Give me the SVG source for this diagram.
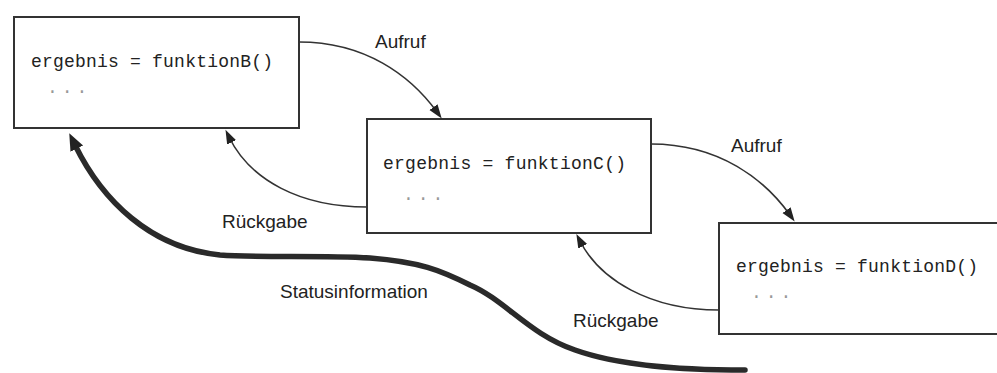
<svg xmlns="http://www.w3.org/2000/svg" width="997" height="373" viewBox="0 0 997 373">
<style>
.box{fill:#fff;stroke:#333;stroke-width:2}
.code{font-family:"Liberation Mono","DejaVu Sans Mono",monospace;font-size:18px;fill:#222}
.dots{font-family:"Liberation Mono","DejaVu Sans Mono",monospace;font-size:18px;fill:#999;letter-spacing:4px}
.lbl{font-family:"Liberation Sans",Arial,sans-serif;font-size:19px;fill:#222}
.thin{fill:none;stroke:#333;stroke-width:1.6}
.thick{fill:none;stroke:#2a2a2a;stroke-width:5.5;stroke-linecap:round}
</style>
<defs>
<marker id="ah" markerUnits="userSpaceOnUse" markerWidth="16" markerHeight="12" refX="6" refY="5" orient="auto">
<path d="M0,0 L14,5 L0,10 z" fill="#222"/>
</marker>
<marker id="ahb" markerUnits="userSpaceOnUse" markerWidth="20" markerHeight="16" refX="4" refY="7" orient="auto">
<path d="M0,0 L17,7 L0,14 z" fill="#222"/>
</marker>
</defs>
<g id="nodeB">
<rect class="box" x="14" y="17" width="285" height="111"/>
<text class="code" x="31" y="67" textLength="242" lengthAdjust="spacing">ergebnis = funktionB()</text>
<text class="dots" x="47" y="93">...</text>
</g>
<g id="nodeC">
<rect class="box" x="367" y="119" width="284" height="114"/>
<text class="code" x="383" y="169" textLength="243" lengthAdjust="spacing">ergebnis = funktionC()</text>
<text class="dots" x="403" y="200">...</text>
</g>
<g id="nodeD">
<rect class="box" x="719" y="223" width="290" height="111"/>
<text class="code" x="736" y="272" textLength="242" lengthAdjust="spacing">ergebnis = funktionD()</text>
<text class="dots" x="751" y="298">...</text>
</g>
<g id="connectors">
<path class="thin" d="M299,42 C365,42 410,75 437,112" marker-end="url(#ah)"/>
<path class="thin" d="M367,207 C300,207 250,180 229,137" marker-end="url(#ah)"/>
<path class="thin" d="M651,144 C720,144 765,180 790,215" marker-end="url(#ah)"/>
<path class="thin" d="M719,310 C650,310 600,280 580,241" marker-end="url(#ah)"/>
<path class="thick" d="M745,370 C680,370 620,366 575,350 C530,335 505,300 470,285 C440,270 420,262 370,258 C320,255 260,258 220,255 C150,248 102,200 75,145" marker-end="url(#ahb)"/>
<text class="lbl" x="375" y="48">Aufruf</text>
<text class="lbl" x="731" y="152">Aufruf</text>
<text class="lbl" x="222" y="228">Rückgabe</text>
<text class="lbl" x="573" y="327">Rückgabe</text>
<text class="lbl" x="280" y="298">Statusinformation</text>
</g>
</svg>
